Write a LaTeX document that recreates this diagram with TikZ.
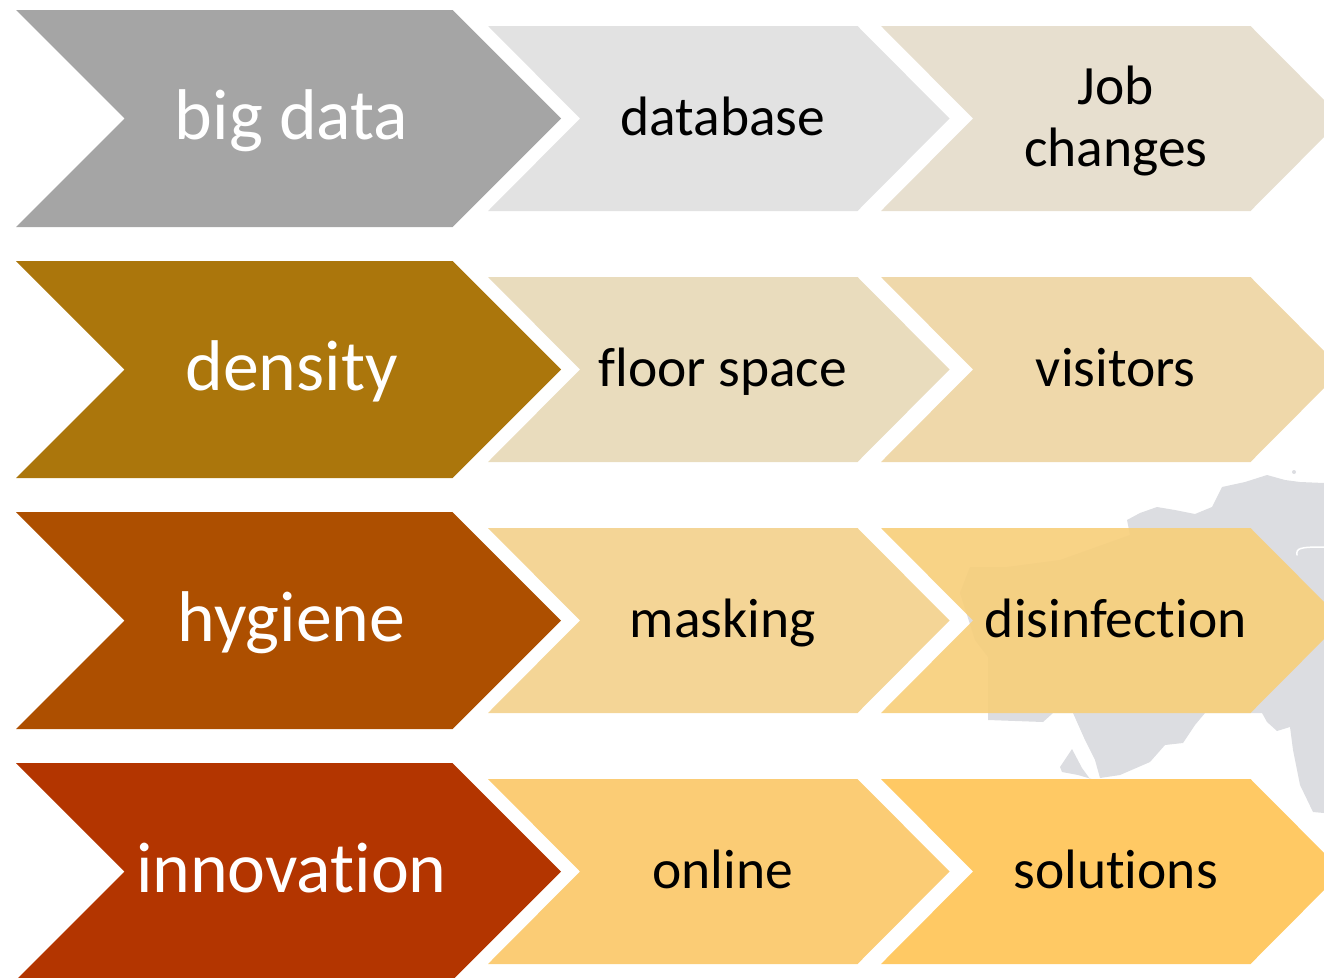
\documentclass[tikz,border=0pt]{standalone}
\usepackage{fontspec}
\setmainfont[Ligatures=NoCommon]{Carlito}
\definecolor{mapgray}{HTML}{DCDDE1}
\definecolor{ca}{HTML}{A5A5A5}\definecolor{cb}{HTML}{AB760C}\definecolor{cc}{HTML}{AD4F00}\definecolor{cd}{HTML}{B33500}
\definecolor{da}{HTML}{E2E2E2}\definecolor{db}{HTML}{E9DCBD}\definecolor{dc}{HTML}{F4D596}\definecolor{dd}{HTML}{FBCC75}
\definecolor{ea}{HTML}{E7DFCF}\definecolor{eb}{HTML}{EFD8AA}\definecolor{ec}{HTML}{F7CF7C}\definecolor{ed}{HTML}{FFC964}
\newcommand{\chev}[9]{% name, left x, top y, height, top-right x, depth, fill style, label style, text
  \path[#7] (#2,#3) -- (#5,#3) -- ({#5+#6},{#3+#4/2}) -- (#5,{#3+#4}) -- (#2,{#3+#4}) -- ({#2+#6},{#3+#4/2}) -- cycle;
  \node[#8] (#1) at ({(#2+#5+#6)/2+4},{#3+#4/2}) {#9};
}
\newcommand{\mainchev}[4]{\chev{#1}{16}{#2}{217}{452.5}{108.5}{fill=#3}{bigtext}{#4}}
\newcommand{\midchev}[4]{\chev{#1}{488}{#2}{185}{857.5}{92}{fill=#3}{smalltext}{#4}}
\newcommand{\lastchev}[4]{\chev{#1}{881}{#2}{185}{1250.5}{92}{fill=#3}{smalltext}{#4}}
\tikzset{smalltext/.style={align=center,inner sep=0pt,anchor=base,yshift=-16.5pt,font=\fontsize{55.5}{62}\selectfont,text=black},
  twolines/.style={smalltext,yshift=-31pt},
  bigtext/.style={align=center,inner sep=0pt,anchor=base,xshift=-1pt,yshift=-20.5pt,font=\fontsize{71.8}{80}\selectfont,text=white},
  mapshape/.style={fill=mapgray,draw=none},
  mapline/.style={draw=white,line width=1.5pt,line cap=round}}
\begin{document}
\begin{tikzpicture}[x=1pt,y=-1pt]
\useasboundingbox (0,0) rectangle (1324,977);
\clip (0,0) rectangle (1324,977);
% map
\path[mapshape] (1324,483) -- (1300,482) -- (1285,480) -- (1267,475) -- (1245,482) -- (1222,487) -- (1217,497) -- (1212,507) -- (1195,514) -- (1175,510) -- (1157,507) -- (1140,513) -- (1127,520) -- (1130,535) -- (1060,560) -- (1007,567) -- (970,567) -- (960,593) -- (975,640) -- (988,657) -- (988,720) -- (1043,722) -- (1053,713) -- (1073,713) -- (1085,740) -- (1095,760) -- (1100,778) -- (1120,775) -- (1150,762) -- (1165,745) -- (1183,743) -- (1195,725) -- (1205,713) -- (1262,713) -- (1267,722) -- (1277,731) -- (1290,727) -- (1293,750) -- (1300,785) -- (1313,812) -- (1324,813) -- cycle;
\path[mapshape] (1072,749) -- (1060,767) -- (1062,772) -- (1078,775) -- (1095,780) -- (1098,790) -- (1082,768) -- cycle;
\path[mapshape] (1294,472) circle (2);
\draw[mapline] (1297,555) .. controls (1296,548) and (1300,547) .. (1324,547);
% rows
\mainchev{a1}{10}{ca}{big data}
\midchev{a2}{26}{da}{database}
\chev{a3}{881}{26}{185}{1250.5}{92}{fill=ea}{smalltext,yshift=-31pt}{Job\\changes}
\mainchev{b1}{261}{cb}{density}
\midchev{b2}{277}{db}{floor space}
\lastchev{b3}{277}{eb}{visitors}
\mainchev{c1}{512}{cc}{hygiene}
\midchev{c2}{528}{dc}{masking}
\lastchev{c3}{528}{ec,fill opacity=.92}{disinfection}
\mainchev{d1}{763}{cd}{innovation}
\midchev{d2}{779}{dd}{online}
\lastchev{d3}{779}{ed}{solutions}
\end{tikzpicture}
\end{document}
